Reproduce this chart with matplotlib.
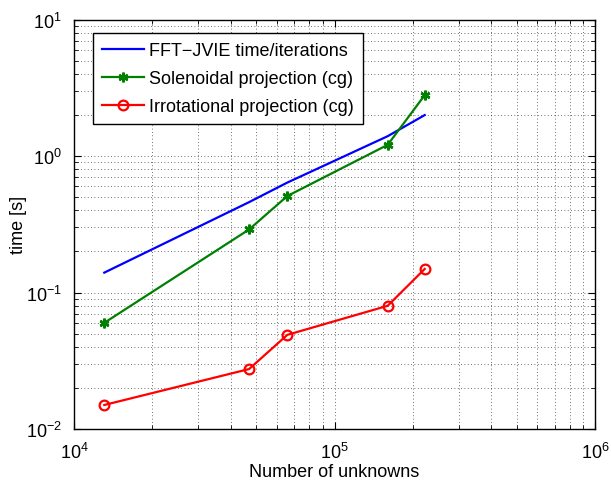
import matplotlib
matplotlib.use("Agg")
import matplotlib.pyplot as plt
from matplotlib.ticker import LogLocator, NullFormatter

plt.rcParams['font.family'] = ['Liberation Sans', 'DejaVu Sans']

# Problem sizes (number of unknowns)
unknowns = [13070, 47000, 65900, 160000, 222000]

# Timings in seconds
fft_jvie = [0.14, 0.46, 0.64, 1.40, 2.0]
solenoidal = [0.06, 0.29, 0.51, 1.21, 2.8]
irrotational = [0.015, 0.0275, 0.049, 0.080, 0.149]

labels = ["FFT\u2212JVIE time/iterations",
          "Solenoidal projection (cg)",
          "Irrotational projection (cg)"]

fig = plt.figure(figsize=(6.11, 4.81), dpi=100)
ax = fig.add_axes([74 / 611, 1 - 430 / 481, 521 / 611, 409.3 / 481])

ax.loglog(unknowns, fft_jvie, color=(0, 0, 1), lw=1.6, label=labels[0])
ax.loglog(unknowns, solenoidal, color=(0, 0.5, 0), lw=1.6, marker=(6, 2, 0),
          ms=7, mew=1.8, label=labels[1])
ax.loglog(unknowns, irrotational, color=(1, 0, 0), lw=1.6, marker='o',
          ms=7, mfc='none', mew=1.6, label=labels[2])

ax.set_xlim(1e4, 1e6)
ax.set_ylim(1e-2, 1e1)

for axis in (ax.xaxis, ax.yaxis):
    axis.set_major_locator(LogLocator(base=10, numticks=10))
    axis.set_minor_locator(LogLocator(base=10, subs=range(2, 10), numticks=100))
    axis.set_minor_formatter(NullFormatter())

ax.grid(True, which='both', color='black', linestyle=(0, (1, 3)), linewidth=0.6, alpha=0.75)
ax.tick_params(which='both', direction='in', top=True, right=True, labelsize=13)
ax.tick_params(which='major', length=5, width=0.8)
ax.tick_params(which='minor', length=3, width=0.6)
ax.tick_params(axis='x', which='major', pad=9)
ax.tick_params(axis='y', which='major', pad=9)
for s in ax.spines.values():
    s.set_linewidth(1.0)

ax.set_xlabel("Number of unknowns", fontsize=13)
ax.set_ylabel("time [s]", fontsize=13)
ax.xaxis.set_label_coords(0.5, -0.082)
ax.yaxis.set_label_coords(-0.090, 0.5)

leg = ax.legend(loc='upper left', bbox_to_anchor=(19 / 521, 1 - 13.6 / 409.3),
                fontsize=13, frameon=True, fancybox=False, edgecolor='black',
                framealpha=1, handlelength=2.3, handletextpad=0.3,
                borderpad=0.5, labelspacing=0.6, borderaxespad=0)
leg.get_frame().set_linewidth(1.0)

fig.savefig("out.png", dpi=100)
